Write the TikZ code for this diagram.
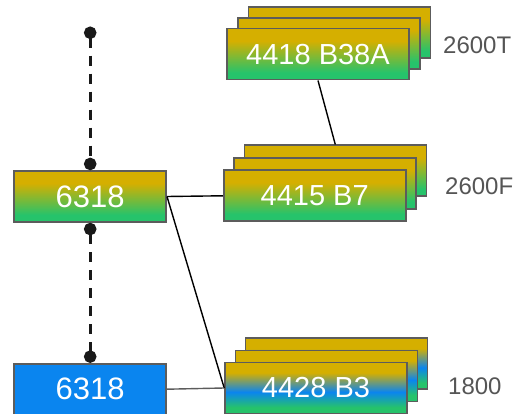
\documentclass[tikz,border=0pt]{standalone}
\usepackage{fontspec}
\setmainfont{Liberation Sans}
\usetikzlibrary{arrows.meta}

\definecolor{cgold}{HTML}{D5AF00}
\definecolor{cgreen}{HTML}{26C36B}
\definecolor{cblue}{HTML}{0A85EF}
\definecolor{cedge}{HTML}{5C5C5C}
\definecolor{ctext}{HTML}{555555}

\pgfdeclareverticalshading{goldgreen}{100bp}{color(0bp)=(cgreen); color(32bp)=(cgreen); color(63bp)=(cgold); color(100bp)=(cgold)}
\pgfdeclareverticalshading{goldbluegreen}{100bp}{color(0bp)=(cgreen); color(31bp)=(cgreen); color(46bp)=(cblue); color(65bp)=(cgold); color(100bp)=(cgold)}

\tikzset{
  card/.style={draw=cedge, line width=1.6pt, minimum width=182pt, minimum height=51pt, inner sep=0pt, text=white, font=\fontsize{29}{29}\selectfont},
  chip/.style={card, minimum width=152pt, font=\fontsize{31}{31}\selectfont},
  tag/.style={anchor=west, inner sep=0pt, text=ctext, font=\fontsize{24}{24}\selectfont},
  link/.style={line width=1.4pt, black},
  pin/.style={dash pattern=on 10pt off 8pt, line width=2.6pt, black!90, {Circle[length=12.5pt]}-{Circle[length=12.5pt]}}
}

\begin{document}
\begin{tikzpicture}[x=1pt, y=-1pt]
\useasboundingbox (0,0) rectangle (514,414);

% 绘制左侧两个 6318
\node[chip, shading=goldgreen] (n6318) at (90.2,196.5) {6318};
\node[chip, fill=cblue] (b6318) at (90.2,389.2) {6318};

% 绘制右上 4418 B38A 一摞
\foreach \k in {2,1}
  \node[card, shading=goldgreen] (b38a-\k) at (318+10.7*\k, 54.2-10.7*\k) {};
\node[card, shading=goldgreen] (b38a) at (318,54.2) {4418 B38A};

% 绘制中间 4415 B7 一摞
\foreach \k in {2,1}
  \node[card, shading=goldgreen] (b7-\k) at (314.7+10.3*\k, 195.8-12.5*\k) {};
\node[card, shading=goldgreen] (b7) at (314.7,195.8) {4415 B7};

% 绘制下方 4428 B3 一摞
\foreach \k in {2,1}
  \node[card, shading=goldbluegreen] (b3-\k) at (316+10.3*\k, 388-12.2*\k) {};
\node[card, shading=goldbluegreen] (b3) at (316,388) {4428 B3};

% 右侧标注
\node[tag] (t2600) at (443,45) {2600T};
\node[tag] (f2600) at (445,186.7) {2600F};
\node[tag] (s1800) at (448,386.7) {1800};

% 连线
\draw[link] (n6318.east) -- (b7.west);
\draw[link] (n6318.east) -- (b3.west);
\draw[link] (b38a.south) -- (b7-2.north);
\draw[link, cedge] (b6318.east) -- (b3.west);

% 左侧虚线与圆点
\coordinate (top) at (90.2,26.5);
\draw[pin] (top) -- (n6318.north);
\draw[pin] (n6318.south) -- (b6318.north);

\end{tikzpicture}
\end{document}
